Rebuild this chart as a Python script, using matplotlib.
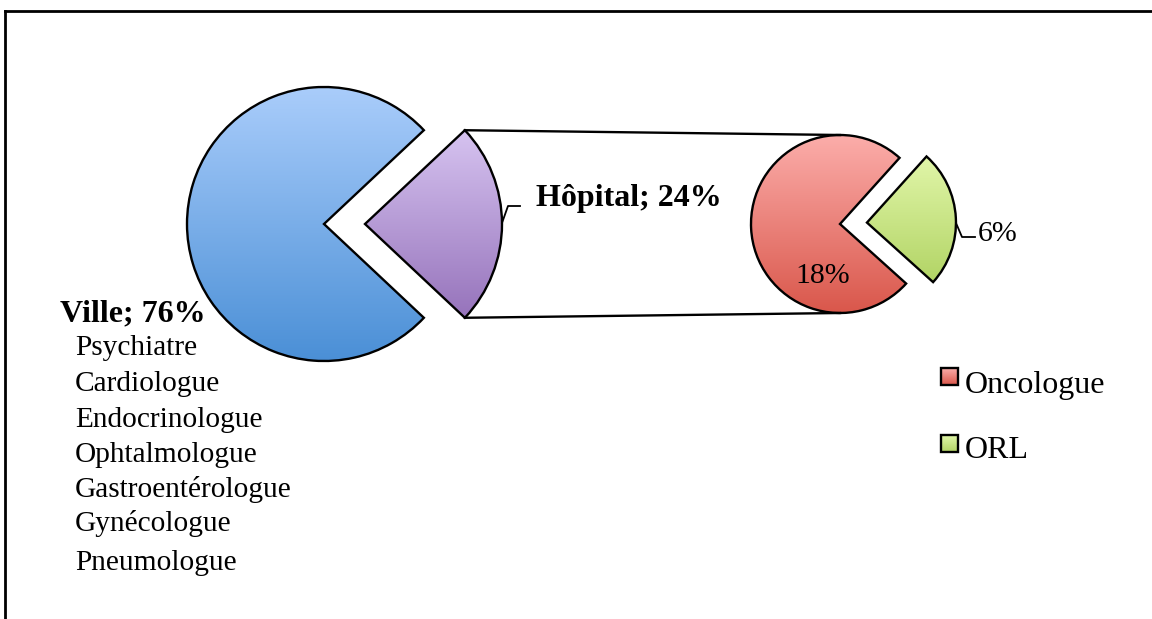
import numpy as np
import matplotlib
matplotlib.use("Agg")
import matplotlib.pyplot as plt
from matplotlib.colors import LinearSegmentedColormap
from matplotlib.patches import Rectangle
from matplotlib.lines import Line2D

# ---- data ----
main_labels = ["Ville", "Hôpital"]
main_values = [76, 24]
sub_labels = ["Oncologue", "ORL"]
sub_values = [18, 6]
ville_specialites = ["Psychiatre", "Cardiologue", "Endocrinologue", "Ophtalmologue",
                     "Gastroentérologue", "Gynécologue", "Pneumologue"]

# ---- styles ----
main_grad = [("#4a8fd6", "#aacdfb"), ("#9673bb", "#d6c3f0")]
sub_grad = [("#d9564a", "#fcaeab"), ("#b2d465", "#e1f6a9")]

W, H = 1152, 619
plt.rcParams['font.family'] = ['Liberation Serif', 'DejaVu Serif']

fig = plt.figure(figsize=(W / 100, H / 100), dpi=100)
ax = fig.add_axes([0, 0, 1, 1])


def Y(y):
    return H - y


def grad_fill(ax, patch, bottom, top, bbox):
    cmap = LinearSegmentedColormap.from_list("g", [bottom, top])
    g = np.linspace(0, 1, 256).reshape(-1, 1)
    im = ax.imshow(g, cmap=cmap, origin="lower", extent=bbox, aspect="auto",
                   interpolation="bilinear", zorder=1)
    im.set_clip_path(patch)


def wedge_bbox(w):
    v = w.get_path().vertices
    return (v[:, 0].min(), v[:, 0].max(), v[:, 1].min(), v[:, 1].max())


# main pie
r_main = 137
main_w, _ = ax.pie(main_values, startangle=43.2, counterclock=True,
                   center=(324, Y(224)), radius=r_main, explode=[0, 41],
                   wedgeprops=dict(edgecolor="black", linewidth=1.7, facecolor="none", zorder=2))
# sub pie
r_sub = 89
sub_w, _ = ax.pie(sub_values, startangle=48, counterclock=True,
                  center=(840, Y(224)), radius=r_sub, explode=[0, 27],
                  wedgeprops=dict(edgecolor="black", linewidth=1.7, facecolor="none", zorder=2))

ax.set_xlim(0, W)
ax.set_ylim(0, H)
ax.set_aspect("auto")
ax.axis("off")

for w, (b, t) in zip(list(main_w) + list(sub_w), main_grad + sub_grad):
    grad_fill(ax, w, b, t, wedge_bbox(w))

# connector lines between Hospital wedge and sub pie
hw = main_w[1]
cx, cy = hw.center
t1, t2 = np.deg2rad(hw.theta1), np.deg2rad(hw.theta2)
top_corner = (cx + hw.r * np.cos(t2), cy + hw.r * np.sin(t2))
bot_corner = (cx + hw.r * np.cos(t1), cy + hw.r * np.sin(t1))
scx, scy = 840, Y(224)
ax.plot([top_corner[0], scx], [top_corner[1], scy + r_sub], color="black", lw=1.7, zorder=3)
ax.plot([bot_corner[0], scx], [bot_corner[1], scy - r_sub], color="black", lw=1.7, zorder=3)

# labels
ax.text(60, Y(321), f"{main_labels[0]}; {main_values[0]}%", fontsize=23, fontweight="bold",
        ha="left", va="baseline", zorder=4)
ax.text(536, Y(206), f"{main_labels[1]}; {main_values[1]}%", fontsize=23, fontweight="bold",
        ha="left", va="baseline", zorder=4)
ax.plot([502, 508, 520], [Y(223), Y(206), Y(206)], color="black", lw=1.3, zorder=3)

ax.text(795, Y(283), f"{sub_values[0]}%", fontsize=21.5, ha="left", va="baseline", zorder=4)
ax.text(978, Y(241), f"{sub_values[1]}%", fontsize=21.5, ha="left", va="baseline", zorder=4)
ax.plot([956, 962, 975], [Y(223), Y(237), Y(237)], color="black", lw=1.3, zorder=3)

spec_baselines = [355, 391, 427, 462, 497, 531, 570]
for name, yb in zip(ville_specialites, spec_baselines):
    ax.text(75, Y(yb), name, fontsize=21.2, ha="left", va="baseline", zorder=4)

# legend (manual)
leg_rows = [(368, 393), (435, 458)]
for lab, (b, t), (ysq, ytx) in zip(sub_labels, sub_grad, leg_rows):
    rect = Rectangle((941, Y(ysq + 17)), 17, 17, facecolor="none", edgecolor="black",
                     lw=1.7, zorder=3)
    ax.add_patch(rect)
    grad_fill(ax, rect, b, t, (941, 958, Y(ysq + 17), Y(ysq)))
    ax.text(965, Y(ytx), lab, fontsize=23, ha="left", va="baseline", zorder=4)

# frame
fig.add_artist(Line2D([5 / W, 1], [Y(11) / H, Y(11) / H], color="black", lw=2))
fig.add_artist(Line2D([5 / W, 5 / W], [Y(11) / H, 0], color="black", lw=2))

fig.savefig("out.png", dpi=100)
